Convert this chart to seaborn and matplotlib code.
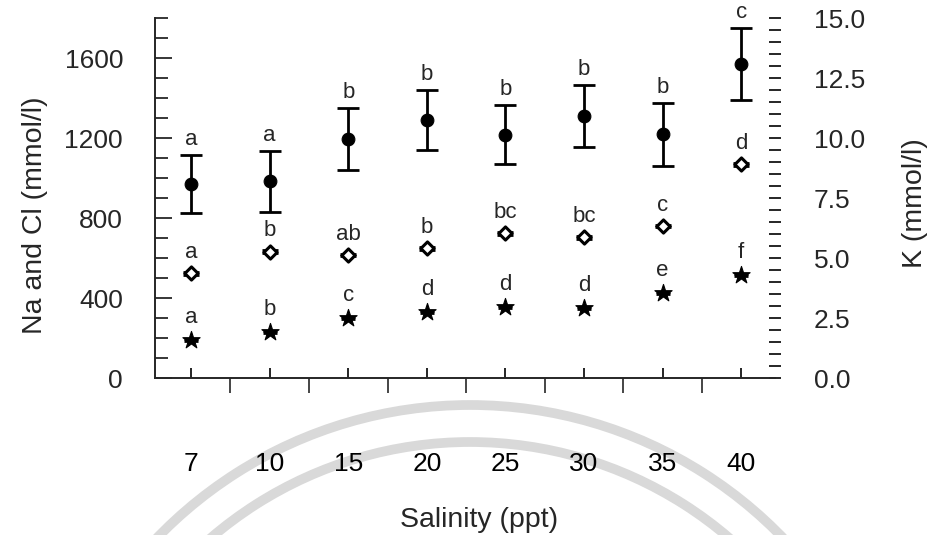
import numpy as np
import pandas as pd
import matplotlib
matplotlib.use("Agg")
import matplotlib.pyplot as plt
import seaborn as sns
from matplotlib.ticker import MultipleLocator, FixedLocator, FormatStrFormatter
from matplotlib.patches import Arc

# ---- data ----
salinity = ["7", "10", "15", "20", "25", "30", "35", "40"]

na_mean = [970, 983, 1195, 1290, 1216, 1311, 1218, 1570]
na_err = [147, 152, 155, 150, 148, 154, 157, 180]
na_letters = ["a", "a", "b", "b", "b", "b", "b", "c"]

cl_mean = [523, 632, 615, 648, 723, 703, 760, 1068]
cl_err = [6, 6, 6, 6, 6, 6, 6, 6]
cl_letters = ["a", "b", "ab", "b", "bc", "bc", "c", "d"]

k_mean = [1.58, 1.92, 2.50, 2.75, 2.96, 2.92, 3.54, 4.29]
k_err = [0.05, 0.05, 0.05, 0.05, 0.05, 0.05, 0.05, 0.05]
k_letters = ["a", "b", "c", "d", "d", "d", "e", "f"]

df = pd.DataFrame({
    "salinity": salinity,
    "na": na_mean, "na_err": na_err,
    "cl": cl_mean, "cl_err": cl_err,
    "k": k_mean, "k_err": k_err,
})
df["pos"] = np.arange(len(salinity))

# ---- style ----
sns.set_theme(style="ticks")
plt.rcParams["font.family"] = ["Liberation Sans", "DejaVu Sans"]
plt.rcParams["axes.linewidth"] = 1.4

W, H = 927, 535
fig = plt.figure(figsize=(W / 100, H / 100), dpi=100)
ax = fig.add_axes([155 / W, 1 - 378 / H, 620 / W, 360 / H])
ax.set_facecolor("none")
ax2 = ax.twinx()

# watermark arcs (scan background)
for r in (435, 398):
    arc = Arc((470, H - 840), 2 * r, 2 * r, theta1=25, theta2=155,
              transform=None, color="#d9d9d9", lw=7, zorder=-5)
    fig.add_artist(arc)

# Na : filled circles with error bars
ax.errorbar(df["pos"], df["na"], yerr=df["na_err"], fmt="none", ecolor="black",
            elinewidth=2, capsize=8, capthick=2, zorder=2)
sns.scatterplot(data=df, x="pos", y="na", ax=ax, marker="o", s=85,
                color="black", edgecolor="black", zorder=3, legend=False)

# Cl : open diamonds
ax.errorbar(df["pos"], df["cl"], yerr=df["cl_err"], fmt="none", ecolor="black",
            elinewidth=2, capsize=6, capthick=2, zorder=2)
sns.scatterplot(data=df, x="pos", y="cl", ax=ax, marker="D", s=45,
                facecolor="white", edgecolor="black", linewidth=2.2,
                zorder=3, legend=False)

# K : filled stars on right axis
ax2.errorbar(df["pos"], df["k"], yerr=df["k_err"], fmt="none", ecolor="black",
             elinewidth=2, capsize=5, capthick=2, zorder=2)
sns.scatterplot(data=df, x="pos", y="k", ax=ax2, marker="*", s=170,
                color="black", edgecolor="black", linewidth=0.8,
                zorder=3, legend=False)

# significance letters
LFS = 16
for p, m, e, t in zip(df["pos"], na_mean, na_err, na_letters):
    ax.annotate(t, (p, m + e), xytext=(0, 7), textcoords="offset points",
                ha="center", va="baseline", fontsize=LFS, annotation_clip=False)
for p, m, t in zip(df["pos"], cl_mean, cl_letters):
    ax.annotate(t, (p, m), xytext=(0, 11), textcoords="offset points",
                ha="center", va="baseline", fontsize=LFS, annotation_clip=False)
for p, m, t in zip(df["pos"], k_mean, k_letters):
    ax2.annotate(t, (p, m), xytext=(0, 12.5), textcoords="offset points",
                 ha="center", va="baseline", fontsize=LFS, annotation_clip=False)

# ---- axes ----
ax.set_xlim(-0.46, 7.43)
ax.set_ylim(0, 1800)
ax2.set_ylim(0, 15)

TFS = 19
ax.set_xticks(df["pos"])
ax.set_xticklabels(salinity)
ax.xaxis.set_minor_locator(FixedLocator(np.arange(0.5, 7, 1)))
ax.tick_params(axis="x", which="major", direction="in", length=7, width=1.2,
               pad=53, labelsize=TFS, colors="black")
ax.tick_params(axis="x", which="minor", direction="out", length=11, width=1.2)

ax.yaxis.set_major_locator(FixedLocator([0, 400, 800, 1200, 1600]))
ax.yaxis.set_minor_locator(MultipleLocator(100))
ax.tick_params(axis="y", which="major", direction="in", length=12, width=1.3,
               pad=23, labelsize=TFS)
ax.tick_params(axis="y", which="minor", direction="in", length=9, width=1.3)

ax2.yaxis.set_major_locator(MultipleLocator(2.5))
ax2.yaxis.set_major_formatter(FormatStrFormatter("%.1f"))
ax2.yaxis.set_minor_locator(MultipleLocator(0.5))
ax2.tick_params(axis="y", which="major", direction="inout", length=8, width=1.4,
                pad=24, labelsize=TFS)
ax2.tick_params(axis="y", which="minor", direction="inout", length=8, width=1.4)

for s in ("top", "right"):
    ax.spines[s].set_visible(False)
for s in ax2.spines.values():
    s.set_visible(False)

LBS = 20.5
ax.set_xlabel("Salinity (ppt)", fontsize=LBS)
ax.set_ylabel("Na and Cl (mmol/l)", fontsize=LBS)
ax2.set_ylabel("K (mmol/l)", fontsize=LBS)
ax.xaxis.set_label_coords((479 - 155) / 620, (378 - 520) / 360)
ax.xaxis.label.set_va("center")
ax.yaxis.set_label_coords((35 - 155) / 620, (378 - 215) / 360)
ax.yaxis.label.set_va("center")
ax2.yaxis.set_label_coords((915 - 155) / 620, (378 - 203) / 360)
ax2.yaxis.label.set_va("center")
ax2.yaxis.label.set_rotation(90)

fig.savefig("out.png", dpi=100)
